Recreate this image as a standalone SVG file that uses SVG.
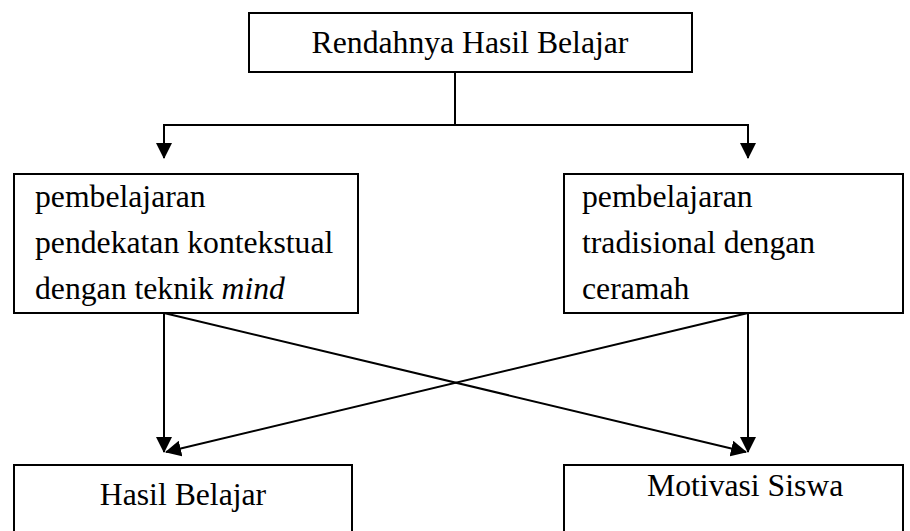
<svg xmlns="http://www.w3.org/2000/svg" width="910" height="531" viewBox="0 0 910 531">
<style>
  .box{fill:#fff;stroke:#000;stroke-width:2}
  .t{font-family:"Liberation Serif","Times New Roman",serif;font-size:31.7px;fill:#000}
  .ln{fill:none;stroke:#000;stroke-width:2}
</style>
<defs>
  <marker id="ah" viewBox="0 0 16 16" refX="15" refY="8" markerWidth="16" markerHeight="16" markerUnits="userSpaceOnUse" orient="auto">
    <path d="M0,0 L16,8 L0,16 Z" fill="#000"/>
  </marker>
</defs>
<rect width="910" height="531" fill="#fff"/>
<g id="connectors">
  <path class="ln" d="M455,72 V125"/>
  <path class="ln" d="M455,125 H164 V158" marker-end="url(#ah)"/>
  <path class="ln" d="M455,125 H748 V158" marker-end="url(#ah)"/>
  <path class="ln" d="M164,313 V452" marker-end="url(#ah)"/>
  <path class="ln" d="M164,313 L746,452" marker-end="url(#ah)"/>
  <path class="ln" d="M748,313 V452" marker-end="url(#ah)"/>
  <path class="ln" d="M748,313 L166,452" marker-end="url(#ah)"/>
</g>
<g id="top">
  <rect class="box" x="249" y="13" width="443" height="59"/>
  <text class="t" x="470" y="53" text-anchor="middle">Rendahnya Hasil Belajar</text>
</g>
<g id="left-mid">
  <rect class="box" x="14" y="174" width="344" height="139"/>
  <text class="t" x="35" y="207">pembelajaran</text>
  <text class="t" x="35" y="253">pendekatan kontekstual</text>
  <text class="t" x="35" y="299">dengan teknik <tspan font-style="italic">mind</tspan></text>
</g>
<g id="right-mid">
  <rect class="box" x="564" y="174" width="339" height="139"/>
  <text class="t" x="582" y="207">pembelajaran</text>
  <text class="t" x="582" y="253">tradisional dengan</text>
  <text class="t" x="582" y="299">ceramah</text>
</g>
<g id="hasil">
  <rect class="box" x="14" y="465" width="338" height="80"/>
  <text class="t" x="183" y="505" text-anchor="middle">Hasil Belajar</text>
</g>
<g id="motivasi">
  <rect class="box" x="564" y="465" width="339" height="80"/>
  <text class="t" x="647" y="496">Motivasi Siswa</text>
</g>
</svg>
